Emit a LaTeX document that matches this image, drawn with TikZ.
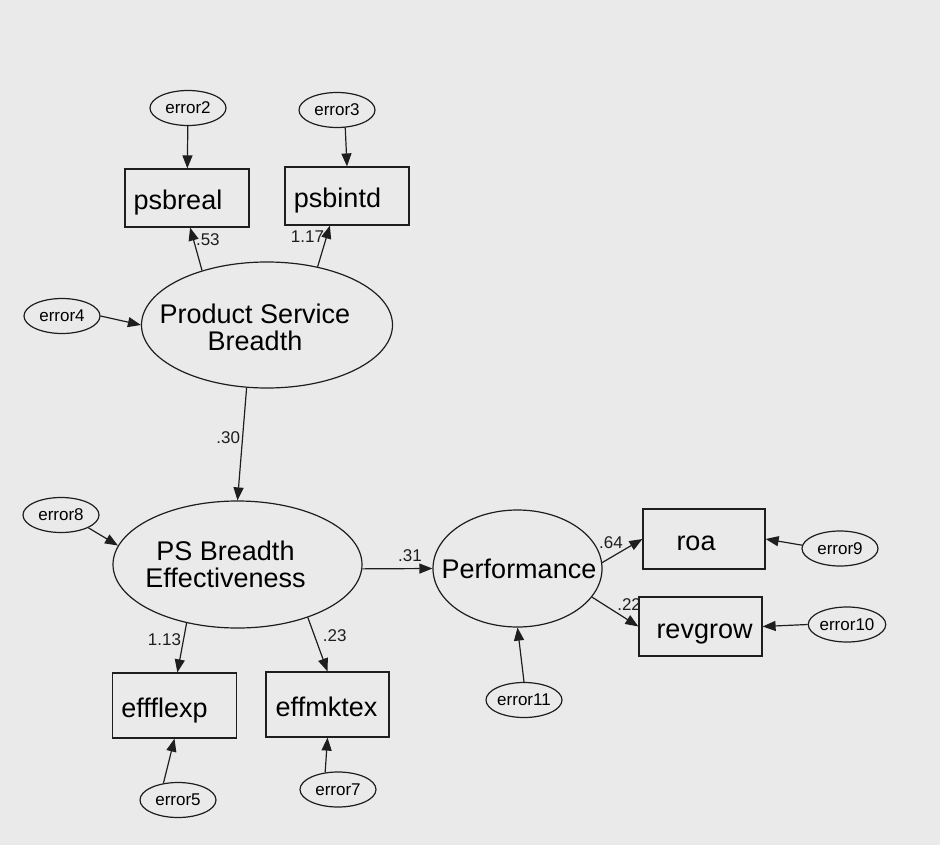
\documentclass[tikz,border=0pt]{standalone}
\usepackage{fontspec}
\setmainfont{Liberation Sans}
\usetikzlibrary{shapes}
\usetikzlibrary{arrows.meta}
\definecolor{bgray}{RGB}{234,234,234}
\definecolor{ink}{RGB}{30,30,30}
\tikzset{
    errnode/.style = {ellipse, draw=ink, line width=0.6pt, inner sep=0pt, minimum width=38pt, minimum height=17.5pt, font=\fontsize{8.5}{8.5}\selectfont},
    latent/.style = {ellipse, draw=ink, line width=0.6pt, inner sep=0pt},
    lattext/.style = {align=center, inner sep=0pt, font=\fontsize{13.5}{13.5}\selectfont},
    obsbox/.style = {rectangle, draw=ink, line width=0.6pt, inner sep=0pt, minimum width=62pt, minimum height=29pt, text height=11.5pt, text depth=0pt, font=\fontsize{13.5}{13.5}\selectfont},
    nudge/.style = {execute at end node={\hspace*{#1}}}, % moves the text left by #1/2
    coef/.style = {font=\fontsize{8.5}{8.5}\selectfont, inner sep=1pt, text=ink},
    edgen/.style = {-{Triangle[length=6.5pt,width=5pt]}, line width=0.6pt, draw=ink}, % path
}

\begin{document}
\begin{tikzpicture}[x=0.5pt, y=-0.5pt]
%
\path[fill=bgray] (0, 0) rectangle (940, 845);
\useasboundingbox (0, 0) rectangle (940, 845);
%
\node[errnode] at (188, 108) (e2) {error2};
\node[errnode] at (337, 110) (e3) {error3};
\node[obsbox, nudge=9pt] at (187, 198) (psbreal) {psbreal};
\node[obsbox, nudge=9.5pt] at (347, 196) (psbintd) {psbintd};
\node[errnode] at (62, 316) (e4) {error4};
\node[latent, minimum width=125.5pt, minimum height=63pt,
      label={[lattext, xshift=-6pt, yshift=-1pt]center:Product Service\\Breadth}] at (267, 325) (psb) {};
\node[errnode] at (61, 515) (e8) {error8};
\node[latent, minimum width=124.5pt, minimum height=63.5pt,
      label={[lattext, xshift=-6pt]center:PS Breadth\\Effectiveness}] at (237.5, 564.5) (psbe) {};
\node[obsbox, nudge=10pt, minimum height=32.5pt] at (174.5, 705.5) (effflexp) {effflexp};
\node[obsbox, nudge=1pt, minimum width=61.5pt, minimum height=32.5pt] at (327.5, 704.5) (effmktex) {effmktex};
\node[errnode] at (178, 800) (e5) {error5};
\node[errnode] at (338, 789.5) (e7) {error7};
\node[latent, minimum width=84.5pt, minimum height=58.5pt,
      label={[lattext, xshift=0.75pt]center:Performance}] at (517.5, 568.5) (perf) {};
\node[errnode] at (524, 700) (e11) {error11};
\node[obsbox, nudge=8pt, minimum width=61pt, minimum height=30pt] at (704, 539) (roa) {roa};
\node[obsbox, nudge=-4pt, minimum width=61.5pt, minimum height=29.5pt] at (700.5, 626.5) (revgrow) {revgrow};
\node[errnode] at (840, 548.5) (e9) {error9};
\node[errnode] at (847, 624.5) (e10) {error10};
%
\draw[edgen] (e2) -- (psbreal);
\draw[edgen] (e3.-65) -- (psbintd.north);
\draw[edgen] (e4.east) -- (psb.west);
\draw[edgen] (psb.140) -- node[coef, right, pos=0.72] {.53} (psbreal.-84);
\draw[edgen] (psb.49) -- node[coef, left, pos=0.73] {1.17} (psbintd.-120);
\draw[edgen] (psb.-108) -- node[coef, left, pos=0.44] {.30} (psbe.north);
\draw[edgen] (e8.-25) -- (psbe.171);
\draw[edgen] (psbe.-131) -- node[coef, left, pos=0.33] {1.13} (effflexp.85);
\draw[edgen] (psbe.-37) -- node[coef, right=3pt, pos=0.33] {.23} (effmktex.north);
\draw[edgen] (e5.131) -- (effflexp.south);
\draw[edgen] (e7.127) -- (effmktex.south);
\draw[edgen] (psbe.-2) -- node[coef, above=2pt, pos=0.68] {.31} (perf.west);
\draw[edgen] (perf.4) -- node[coef, above=3pt, pos=0.22] {.64} (roa.west);
\draw[edgen] (perf.-21) -- node[coef, above=4pt, pos=0.8] {.22} (revgrow.west);
\draw[edgen] (e9.175) -- (roa.east);
\draw[edgen] (e10.west) -- (revgrow.east);
\draw[edgen] (e11.north) -- (perf.south);

\end{tikzpicture}
\end{document}
